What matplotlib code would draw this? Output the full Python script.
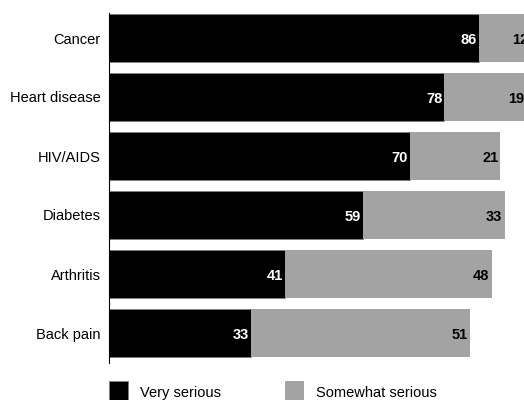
import matplotlib.pyplot as plt
import numpy as np
from matplotlib.patches import Rectangle

plt.rcParams['font.family'] = ['Liberation Sans', 'DejaVu Sans']

categories = ['Cancer', 'Heart disease', 'HIV/AIDS', 'Diabetes', 'Arthritis', 'Back pain']
very_serious = [86, 78, 70, 59, 41, 33]
somewhat_serious = [12, 19, 21, 33, 48, 51]

BLACK = '#000000'
GRAY = '#a3a3a3'

fig = plt.figure(figsize=(5.24, 4.0), dpi=100)
# axes from x=109px to the right edge, bars run off the figure like the original
ax = fig.add_axes([109/524, 1-363/400, 1-109/524, 350/400])

y = np.arange(len(categories))
h = 0.81
ax.barh(y, very_serious, height=h, color=BLACK, edgecolor='#808080', linewidth=0.6)
ax.barh(y, somewhat_serious, left=very_serious, height=h, color=GRAY, linewidth=0)

for i in range(len(categories)):
    v = very_serious[i]
    s = somewhat_serious[i]
    ax.text(v - 0.5, i + 0.04, str(v), color='white', fontsize=10.5, fontweight='bold',
            ha='right', va='center')
    ax.text(v + s - 0.5, i + 0.04, str(s), color='black', fontsize=10.5, fontweight='bold',
            ha='right', va='center', clip_on=False)

ax.set_xlim(0, (524-109)/4.3)
ax.set_ylim(5 + 30/59, -25/59)
ax.set_yticks(y)
ax.set_yticklabels(categories, fontsize=10.5)
ax.tick_params(axis='y', length=0, pad=6)
ax.set_xticks([])
for sp in ['top', 'right', 'bottom']:
    ax.spines[sp].set_visible(False)
ax.spines['left'].set_linewidth(0.8)

# legend
fig.patches.append(Rectangle((109/524, 1-401/400), 19/524, 20/400, transform=fig.transFigure,
                             facecolor=BLACK, edgecolor='#808080', linewidth=0.6))
fig.text(140/524, 1-393/400, 'Very serious', fontsize=10.5, va='center', ha='left')
fig.patches.append(Rectangle((285/524, 1-401/400), 19/524, 20/400, transform=fig.transFigure,
                             facecolor=GRAY, linewidth=0))
fig.text(316/524, 1-393/400, 'Somewhat serious', fontsize=10.5, va='center', ha='left')

fig.savefig('out.png', dpi=100)
